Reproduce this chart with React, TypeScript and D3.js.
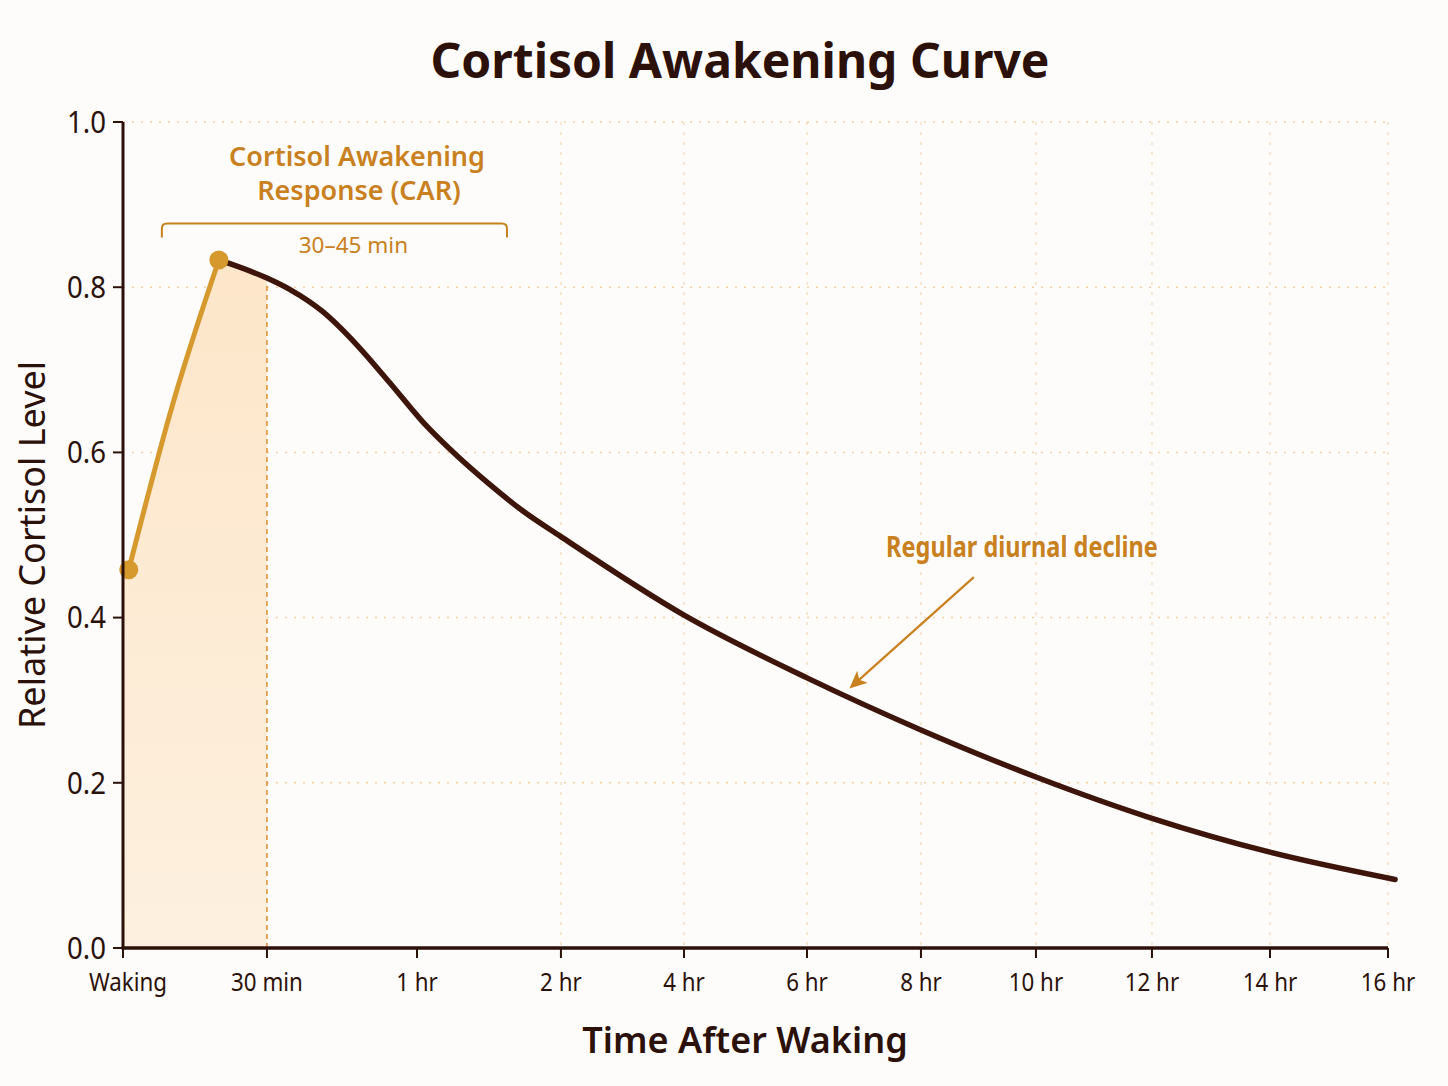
import React from "react";
import * as d3 from "d3";

// ---- data ----
const tickHours = [0, 0.5, 1, 2, 4, 6, 8, 10, 12, 14, 16];
const tickLabels = ["Waking", "30 min", "1 hr", "2 hr", "4 hr", "6 hr", "8 hr", "10 hr", "12 hr", "14 hr", "16 hr"];
const gridHours = [2, 4, 6, 8, 10, 12, 14, 16];
const yTicks = [0, 0.2, 0.4, 0.6, 0.8, 1.0];

// rising (CAR) phase: hours after waking, relative level
const riseHours = [0.02, 0.174, 0.333];
const riseValues = [0.458, 0.66, 0.833];

// decline phase
const declineHours = [0.333, 0.5, 0.577, 0.687, 0.8, 0.91, 1.04, 1.278, 1.507, 1.736, 2, 4, 6, 8, 10, 12, 14, 16.12];
const declineValues = [0.833, 0.811, 0.797, 0.77, 0.73, 0.684, 0.637, 0.596, 0.561, 0.529, 0.498, 0.403, 0.327, 0.264, 0.207, 0.157, 0.116, 0.083];

const carEndHour = 0.5;
const bracketHours = [0.135, 1.625];
const bracketLevel = 0.877;
const arrowFrom = { h: 8.92, v: 0.449 };
const arrowTo = { h: 6.79, v: 0.317 };

// ---- layout ----
const W = 1448;
const H = 1086;
const left = 123;
const right = 1388;
const top = 122;
const bottom = 948;
// relative positions of the (non-uniform) time ticks along the axis
const tickFractions = [0, 0.1138, 0.2324, 0.3462, 0.4435, 0.5407, 0.6308, 0.7217, 0.8134, 0.9067, 1];

const DARK = "#2b1109";
const CURVE = "#3e150b";
const ORANGE = "#c9811f";
const GOLD = "#d6992d";
const GRID = "#f5d1a8";
const COND = "'Noto Sans', 'DejaVu Sans', sans-serif";
const SANS = "'Noto Sans', 'Open Sans', sans-serif";

// narrow text: regular text squeezed horizontally to mimic a condensed face
function NarrowText(props: {
  x: number;
  y: number;
  sx: number;
  anchor: string;
  size: number;
  fill: string;
  weight?: number;
  dy?: string;
  children: React.ReactNode;
}) {
  return (
    <text
      transform={`translate(${props.x},${props.y}) scale(${props.sx},1)`}
      dy={props.dy}
      textAnchor={props.anchor}
      fontFamily={COND}
      fontSize={props.size}
      fontWeight={props.weight || 400}
      fill={props.fill}
    >
      {props.children}
    </text>
  );
}

export default function App() {
  const x = d3
    .scaleLinear()
    .domain(tickHours)
    .range(tickFractions.map((f) => left + f * (right - left)));
  const y = d3.scaleLinear().domain([0, 1]).range([bottom, top]);

  const rise = riseHours.map((h, i) => [h, riseValues[i]] as [number, number]);
  const decline = declineHours.map((h, i) => [h, declineValues[i]] as [number, number]);

  const line = d3
    .line<[number, number]>()
    .x((d) => x(d[0]))
    .y((d) => y(d[1]))
    .curve(d3.curveMonotoneX);

  // shaded CAR window: from the axis (time 0) to the 30 min mark, under the curve
  const risePath = line(rise) || "";
  const carDecline = decline.filter((d) => d[0] <= carEndHour);
  const carDeclinePath = line(carDecline) || "";
  const fillPath =
    `M${x(0)},${bottom} L${x(0)},${y(riseValues[0])} ` +
    risePath.replace(/^M/, "L") +
    " " +
    carDeclinePath.replace(/^M/, "L") +
    ` L${x(carEndHour)},${bottom} Z`;

  const bx0 = x(bracketHours[0]);
  const bx1 = x(bracketHours[1]);
  const by = y(bracketLevel);
  const bracketPath = `M${bx0},${by + 14} L${bx0},${by + 5} Q${bx0},${by} ${bx0 + 5},${by} L${bx1 - 5},${by} Q${bx1},${by} ${bx1},${by + 5} L${bx1},${by + 14}`;

  const ax0 = x(arrowFrom.h);
  const ay0 = y(arrowFrom.v);
  const ax1 = x(arrowTo.h);
  const ay1 = y(arrowTo.v);

  const peak = rise[rise.length - 1];
  const start = rise[0];
  const carEndValue = declineValues[declineHours.indexOf(carEndHour)];

  return (
    <svg width={W} height={H} style={{ display: "block", position: "absolute", left: 0, top: 0, background: "#fdfcfa" }}>
      <defs>
        <linearGradient id="carFill" x1="0" y1="0" x2="0" y2="1">
          <stop offset="0" stopColor="#fde6c9" />
          <stop offset="1" stopColor="#fdf0df" />
        </linearGradient>
        <marker id="arrowHead" viewBox="0 0 10 10" refX="8" refY="5" markerWidth="8" markerHeight="8" orient="auto" markerUnits="strokeWidth">
          <path d="M0,0.5 L10,5 L0,9.5 L2.5,5 z" fill={ORANGE} />
        </marker>
      </defs>
      <rect x={0} y={0} width={W} height={H} fill="#fdfcfa" />

      {/* grid */}
      {yTicks.slice(1).map((t) => (
        <line key={"gy" + t} x1={left} x2={right} y1={y(t)} y2={y(t)} stroke={GRID} strokeWidth={1.5} strokeDasharray="2,7" />
      ))}
      {gridHours.map((h) => (
        <line key={"gx" + h} x1={x(h)} x2={x(h)} y1={top} y2={bottom} stroke={GRID} strokeWidth={1.2} strokeDasharray="3,7" opacity={0.8} />
      ))}

      {/* CAR fill */}
      <path d={fillPath} fill="url(#carFill)" />
      <line x1={x(carEndHour)} x2={x(carEndHour)} y1={y(carEndValue) + 8} y2={bottom} stroke="#e0923a" strokeWidth={1.6} strokeDasharray="5,4" />

      {/* decline curve */}
      <path d={line(decline) || ""} fill="none" stroke={CURVE} strokeWidth={5.5} strokeLinecap="round" />
      {/* rise curve */}
      <path d={risePath} fill="none" stroke={GOLD} strokeWidth={5} strokeLinecap="round" />
      <circle cx={x(start[0])} cy={y(start[1])} r={9.5} fill={GOLD} />
      <circle cx={x(peak[0])} cy={y(peak[1])} r={9.5} fill={GOLD} />

      {/* axes */}
      <line x1={left} x2={left} y1={top} y2={bottom} stroke={DARK} strokeWidth={3} />
      <line x1={left - 1.5} x2={right} y1={bottom} y2={bottom} stroke={DARK} strokeWidth={3.5} />
      {yTicks.map((t) => (
        <g key={"yt" + t}>
          <line x1={left - 10} x2={left} y1={y(t)} y2={y(t)} stroke={DARK} strokeWidth={2} />
          <NarrowText x={left - 17} y={y(t)} dy="0.36em" sx={0.92} anchor="end" size={30} fill={DARK}>
            {d3.format(".1f")(t)}
          </NarrowText>
        </g>
      ))}
      {tickHours.map((h, i) => (
        <g key={"xt" + h}>
          <line x1={x(h)} x2={x(h)} y1={bottom} y2={bottom + 10} stroke={DARK} strokeWidth={2} />
          <NarrowText x={x(h) + (i === 0 ? 5 : 0)} y={bottom + 43} sx={0.86} anchor="middle" size={26} fill={DARK}>
            {tickLabels[i]}
          </NarrowText>
        </g>
      ))}

      {/* annotations */}
      <text x={357} y={166} textAnchor="middle" fontFamily={SANS} fontWeight={600} fontSize={27} fill={ORANGE}>
        Cortisol Awakening
      </text>
      <text x={359} y={200} textAnchor="middle" fontFamily={SANS} fontWeight={600} fontSize={27} fill={ORANGE}>
        Response (CAR)
      </text>
      <path d={bracketPath} fill="none" stroke={ORANGE} strokeWidth={2} />
      <text x={(bx0 + bx1) / 2 + 19} y={by + 29} textAnchor="middle" fontFamily={SANS} fontSize={22.5} fill={ORANGE}>
        30–45 min
      </text>

      <NarrowText x={1022} y={557} sx={0.84} anchor="middle" size={28} weight={700} fill={ORANGE}>
        Regular diurnal decline
      </NarrowText>
      <line x1={ax0} y1={ay0} x2={ax1} y2={ay1} stroke={ORANGE} strokeWidth={2.2} markerEnd="url(#arrowHead)" />

      {/* titles */}
      <text x={740} y={78} textAnchor="middle" fontFamily={SANS} fontWeight={700} fontSize={48} fill={DARK}>
        Cortisol Awakening Curve
      </text>
      <text x={745} y={1053} textAnchor="middle" fontFamily={SANS} fontWeight={600} fontSize={36} fill={DARK}>
        Time After Waking
      </text>
      <text transform={`translate(45, ${(top + bottom) / 2 + 10}) rotate(-90)`} textAnchor="middle" fontFamily={SANS} fontSize={36} fill={DARK}>
        Relative Cortisol Level
      </text>
    </svg>
  );
}
